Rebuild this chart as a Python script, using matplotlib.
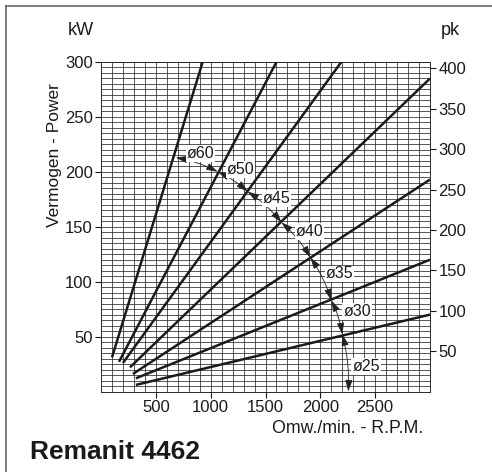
import matplotlib
matplotlib.use("Agg")
import matplotlib.pyplot as plt
from matplotlib.lines import Line2D
import numpy as np

plt.rcParams['font.family'] = ['Liberation Sans', 'DejaVu Sans']

# ---- data (rpm, kW) ----
diameters = ["ø60", "ø50", "ø45", "ø40", "ø35", "ø30", "ø25"]
line_rpm = [[100, 927], [164, 1600], [200, 2191], [264, 3000],
            [291, 3000], [318, 3000], [318, 3000]]
line_kw = [[31, 300], [27, 300], [26, 300], [22, 285],
           [16, 193], [12, 120], [6, 70]]

# intersection curve (rpm, kW), last point on the axis
curve_rpm = [682, 1064, 1336, 1645, 1909, 2100, 2200, 2255]
curve_kw = [213, 200, 182, 154, 122, 83, 52, 0]

# label positions (rpm, kW)
label_rpm = [909, 1273, 1600, 1900, 2173, 2336, 2418]
label_kw = [217, 202, 176, 146, 107, 73, 23]

x_ticks = [500, 1000, 1500, 2000, 2500]
kw_ticks = [50, 100, 150, 200, 250, 300]
pk_ticks = [50, 100, 150, 200, 250, 300, 350, 400]
KW_PER_PK = 0.7355

W, H = 492, 472
fig = plt.figure(figsize=(W / 100, H / 100), dpi=100)

def fx(px):
    return px / W

def fy(py):
    return 1 - py / H

# outer frame (left and top only)
fig.add_artist(Line2D([fx(6), fx(6)], [fy(6), 0], color='#666666', lw=1.2, transform=fig.transFigure))
fig.add_artist(Line2D([fx(6), 1], [fy(6), fy(6)], color='#666666', lw=1.2, transform=fig.transFigure))

ax = fig.add_axes([fx(101), fy(391.5), fx(430) - fx(101), fy(62) - fy(391.5)])
ax.set_xlim(0, 3000)
ax.set_ylim(0, 300)

ax.set_xticks(x_ticks)
ax.set_xticks(np.arange(0, 3001, 100), minor=True)
ax.set_yticks(kw_ticks)
ax.set_yticks(np.arange(0, 301, 5), minor=True)
ax.grid(True, which='both', color='#2a2a2a', lw=0.55)
ax.set_axisbelow(True)
ax.tick_params(which='minor', length=0)
ax.tick_params(which='major', direction='out', length=4, width=0.8,
               labelsize=12, pad=2, colors='#1a1a1a')
for s in ax.spines.values():
    s.set_color('#2a2a2a')
    s.set_linewidth(0.7)

ax2 = ax.twinx()
ax2.set_ylim(0, 300 / KW_PER_PK)
ax2.set_yticks(pk_ticks)
ax2.tick_params(direction='out', length=4, width=0.8, labelsize=12, pad=2, colors='#1a1a1a')
for s in ax2.spines.values():
    s.set_visible(False)

# thick lines
for r, k in zip(line_rpm, line_kw):
    ax.plot(r, k, color='#1a1a1a', lw=1.8, solid_capstyle='butt', zorder=3)

# dimension curve with arrows
for i in range(len(curve_rpm) - 1):
    ax.annotate('', xy=(curve_rpm[i + 1], curve_kw[i + 1]),
                xytext=(curve_rpm[i], curve_kw[i]),
                arrowprops=dict(arrowstyle='<|-|>,head_length=0.7,head_width=0.22',
                                color='#222222', lw=0.6, mutation_scale=10,
                                shrinkA=0, shrinkB=0,
                                connectionstyle='arc3,rad=-0.08'),
                zorder=4)

for name, r, k in zip(diameters, label_rpm, label_kw):
    ax.text(r, k, name, fontsize=11.5, ha='center', va='center', color='#1a1a1a',
            bbox=dict(boxstyle='square,pad=0.06', fc='white', ec='none'), zorder=5)

# texts
fig.text(fx(81), fy(35), "kW", fontsize=13, ha='center', va='baseline', color='#1a1a1a')
fig.text(fx(450), fy(35), "pk", fontsize=13, ha='center', va='baseline', color='#1a1a1a')
fig.text(fx(55), fy(155), "Vermogen - Power", fontsize=12.5, rotation=90,
         ha='center', va='center', color='#1a1a1a')
fig.text(fx(423), fy(433), "Omw./min. - R.P.M.", fontsize=12.8, ha='right', va='baseline', color='#1a1a1a')
fig.text(fx(30), fy(459), "Remanit 4462", fontsize=19, fontweight='bold', ha='left', va='baseline',
         color='#1a1a1a')

fig.savefig("out.png", dpi=100)
